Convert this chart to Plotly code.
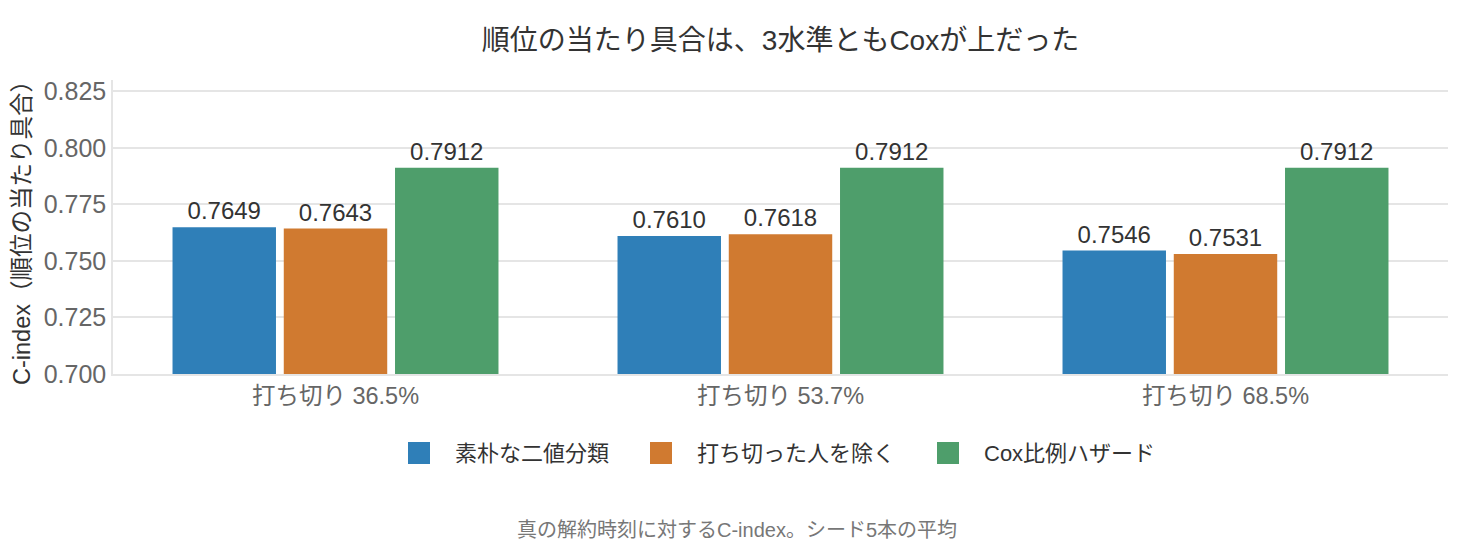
import plotly.graph_objects as go

categories = ["打ち切り 36.5%", "打ち切り 53.7%", "打ち切り 68.5%"]
series_names = ["素朴な二値分類", "打ち切った人を除く", "Cox比例ハザード"]
naive_vals = [0.7649, 0.7610, 0.7546]
drop_vals = [0.7643, 0.7618, 0.7531]
cox_vals = [0.7912, 0.7912, 0.7912]
y_ticks = [0.700, 0.725, 0.750, 0.775, 0.800, 0.825]

COLORS = ["#2F7FB8", "#D07A30", "#4E9E6B"]
FONT = "Liberation Sans, Noto Sans CJK JP, sans-serif"

# page layout (px)
W, H = 1472, 544
M_L, M_R, M_T, M_B = 105, 32, 72, 178
PLOT_W = W - M_L - M_R
PLOT_H = H - M_T - M_B


def px_x(x):
    return (x - M_L) / PLOT_W


def px_y(y):
    return (H - M_B - y) / PLOT_H


fig = go.Figure()
for name, vals, color in zip(series_names, [naive_vals, drop_vals, cox_vals], COLORS):
    fig.add_trace(go.Bar(
        name=name,
        x=categories,
        y=vals,
        marker=dict(color=color, line=dict(width=0)),
        text=[f"{v:.4f}" for v in vals],
        textposition="outside",
        textfont=dict(size=24, color="#333333"),
        cliponaxis=False,
        showlegend=False,
    ))

fig.update_layout(
    width=W,
    height=H,
    barmode="group",
    bargap=0.25,
    bargroupgap=0.07,
    plot_bgcolor="#FFFFFF",
    paper_bgcolor="#FFFFFF",
    font=dict(family=FONT, size=18, color="#555555"),
    title=dict(
        text="順位の当たり具合は、3水準ともCoxが上だった",
        xref="paper", x=0.5, xanchor="center",
        y=1 - 32 / H, yanchor="middle",
        font=dict(size=28, color="#333333"),
    ),
    margin=dict(l=M_L, r=M_R, t=M_T, b=M_B),
    showlegend=False,
)

fig.update_yaxes(
    range=[0.700, 0.830],
    tickvals=y_ticks,
    tickformat=".3f",
    showgrid=True, gridcolor="#E5E5E5", gridwidth=1.5,
    showline=True, linecolor="#E5E5E5", linewidth=1.5,
    zeroline=False,
    ticks="",
    tickfont=dict(size=25, color="#666666"),
    title=dict(text="C-index（順位の当たり具合）", font=dict(size=23.5, color="#333333"), standoff=6),
)
fig.update_xaxes(
    showline=True, linecolor="#E5E5E5", linewidth=1.5,
    ticks="",
    tickfont=dict(size=23.5, color="#666666"),
)

# legend drawn by hand so the colour squares can be as large as in the reference
legend_sq_left = [400, 642, 929]
for name, color, sx in zip(series_names, COLORS, legend_sq_left):
    fig.add_shape(
        type="rect", xref="paper", yref="paper",
        x0=px_x(sx), x1=px_x(sx + 22), y0=px_y(456), y1=px_y(434),
        fillcolor=color, line=dict(width=0),
    )
    fig.add_annotation(
        text=name, xref="paper", yref="paper",
        x=px_x(sx + 45), y=px_y(445), xanchor="left", yanchor="middle",
        showarrow=False,
        font=dict(size=22, color="#333333"),
    )

fig.add_annotation(
    text="真の解約時刻に対するC-index。シード5本の平均",
    xref="paper", yref="paper",
    x=px_x(729), y=px_y(522), xanchor="center", yanchor="middle",
    showarrow=False,
    font=dict(size=20, color="#777777"),
)

fig.write_html("out.html")
